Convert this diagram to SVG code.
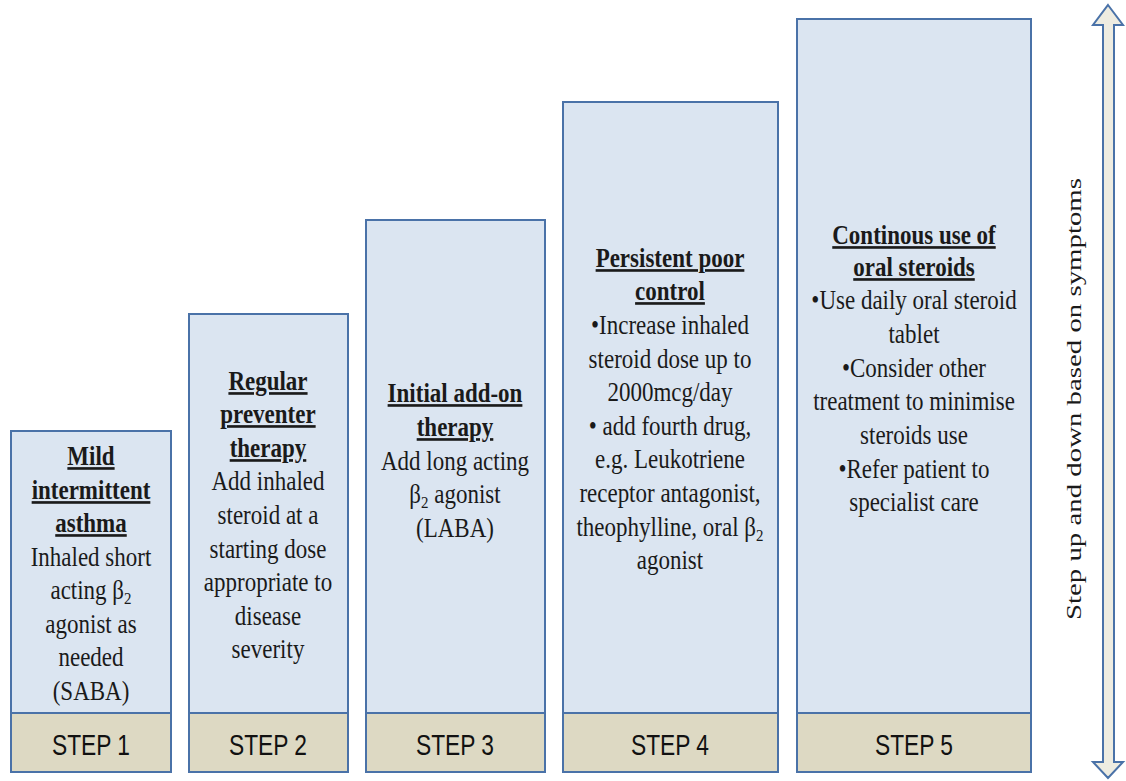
<svg xmlns="http://www.w3.org/2000/svg" width="1126" height="781" viewBox="0 0 1126 781">
<style>
.box{fill:#dbe5f1;stroke:#4a72a8;stroke-width:2}
.step{fill:#ddd9c3;stroke:#4a72a8;stroke-width:2}
.t{font-family:"Liberation Serif","Times New Roman",serif;font-size:23px;fill:#1a1a1a;text-anchor:middle}
.h{font-weight:bold;text-decoration:underline}
.s{font-family:"Liberation Sans",Arial,sans-serif;font-size:30px;fill:#111;text-anchor:middle}
.sub{font-size:15px}
</style>
<rect width="1126" height="781" fill="#ffffff"/>
<g id="step1">
<rect class="box" x="11" y="431" width="160" height="341"/>
<rect class="step" x="11" y="713" width="160" height="59"/>
<text class="t h" transform="matrix(1 0 0 1.15 0 465)" x="91" y="0">Mild</text>
<text class="t h" transform="matrix(1 0 0 1.15 0 499)" x="91" y="0">intermittent</text>
<text class="t h" transform="matrix(1 0 0 1.15 0 532)" x="91" y="0">asthma</text>
<text class="t" transform="matrix(1 0 0 1.15 0 566)" x="91" y="0">Inhaled short</text>
<text class="t" transform="matrix(1 0 0 1.15 0 599)" x="91" y="0">acting β<tspan class="sub" dy="4">2</tspan></text>
<text class="t" transform="matrix(1 0 0 1.15 0 633)" x="91" y="0">agonist as</text>
<text class="t" transform="matrix(1 0 0 1.15 0 666)" x="91" y="0">needed</text>
<text class="t" transform="matrix(1 0 0 1.15 0 700)" x="91" y="0">(SABA)</text>
<text class="s" x="91" y="755" textLength="78" lengthAdjust="spacingAndGlyphs">STEP 1</text>
</g>
<g id="step2">
<rect class="box" x="189" y="314" width="159" height="458"/>
<rect class="step" x="189" y="713" width="159" height="59"/>
<text class="t h" transform="matrix(1 0 0 1.15 0 390)" x="268" y="0">Regular</text>
<text class="t h" transform="matrix(1 0 0 1.15 0 423)" x="268" y="0">preventer</text>
<text class="t h" transform="matrix(1 0 0 1.15 0 457)" x="268" y="0">therapy</text>
<text class="t" transform="matrix(1 0 0 1.15 0 490)" x="268" y="0">Add inhaled</text>
<text class="t" transform="matrix(1 0 0 1.15 0 524)" x="268" y="0">steroid at a</text>
<text class="t" transform="matrix(1 0 0 1.15 0 558)" x="268" y="0">starting dose</text>
<text class="t" transform="matrix(1 0 0 1.15 0 591)" x="268" y="0">appropriate to</text>
<text class="t" transform="matrix(1 0 0 1.15 0 625)" x="268" y="0">disease</text>
<text class="t" transform="matrix(1 0 0 1.15 0 658)" x="268" y="0">severity</text>
<text class="s" x="268" y="755" textLength="78" lengthAdjust="spacingAndGlyphs">STEP 2</text>
</g>
<g id="step3">
<rect class="box" x="366" y="220" width="179" height="552"/>
<rect class="step" x="366" y="713" width="179" height="59"/>
<text class="t h" transform="matrix(1 0 0 1.15 0 402)" x="455" y="0">Initial add-on</text>
<text class="t h" transform="matrix(1 0 0 1.15 0 436)" x="455" y="0">therapy</text>
<text class="t" transform="matrix(1 0 0 1.15 0 470)" x="455" y="0">Add long acting</text>
<text class="t" transform="matrix(1 0 0 1.15 0 503)" x="455" y="0">β<tspan class="sub" dy="4">2</tspan><tspan dy="-4"> agonist</tspan></text>
<text class="t" transform="matrix(1 0 0 1.15 0 537)" x="455" y="0">(LABA)</text>
<text class="s" x="455" y="755" textLength="78" lengthAdjust="spacingAndGlyphs">STEP 3</text>
</g>
<g id="step4">
<rect class="box" x="563" y="102" width="215" height="670"/>
<rect class="step" x="563" y="713" width="215" height="59"/>
<text class="t h" transform="matrix(1 0 0 1.15 0 267)" x="670" y="0">Persistent poor</text>
<text class="t h" transform="matrix(1 0 0 1.15 0 300)" x="670" y="0">control</text>
<text class="t" transform="matrix(1 0 0 1.15 0 334)" x="670" y="0">•Increase inhaled</text>
<text class="t" transform="matrix(1 0 0 1.15 0 368)" x="670" y="0">steroid dose up to</text>
<text class="t" transform="matrix(1 0 0 1.15 0 401)" x="670" y="0">2000mcg/day</text>
<text class="t" transform="matrix(1 0 0 1.15 0 435)" x="670" y="0">• add fourth drug,</text>
<text class="t" transform="matrix(1 0 0 1.15 0 468)" x="670" y="0">e.g. Leukotriene</text>
<text class="t" transform="matrix(1 0 0 1.15 0 502)" x="670" y="0">receptor antagonist,</text>
<text class="t" transform="matrix(1 0 0 1.15 0 536)" x="670" y="0">theophylline, oral β<tspan class="sub" dy="4">2</tspan></text>
<text class="t" transform="matrix(1 0 0 1.15 0 569)" x="670" y="0">agonist</text>
<text class="s" x="670" y="755" textLength="78" lengthAdjust="spacingAndGlyphs">STEP 4</text>
</g>
<g id="step5">
<rect class="box" x="797" y="19" width="234" height="753"/>
<rect class="step" x="797" y="713" width="234" height="59"/>
<text class="t h" transform="matrix(1 0 0 1.15 0 244)" x="914" y="0">Continous use of</text>
<text class="t h" transform="matrix(1 0 0 1.15 0 276)" x="914" y="0">oral steroids</text>
<text class="t" transform="matrix(1 0 0 1.15 0 309)" x="914" y="0">•Use daily oral steroid</text>
<text class="t" transform="matrix(1 0 0 1.15 0 343)" x="914" y="0">tablet</text>
<text class="t" transform="matrix(1 0 0 1.15 0 377)" x="914" y="0">•Consider other</text>
<text class="t" transform="matrix(1 0 0 1.15 0 410)" x="914" y="0">treatment to minimise</text>
<text class="t" transform="matrix(1 0 0 1.15 0 444)" x="914" y="0">steroids use</text>
<text class="t" transform="matrix(1 0 0 1.15 0 478)" x="914" y="0">•Refer patient to</text>
<text class="t" transform="matrix(1 0 0 1.15 0 511)" x="914" y="0">specialist care</text>
<text class="s" x="914" y="755" textLength="78" lengthAdjust="spacingAndGlyphs">STEP 5</text>
</g>
<g id="connectors">
<polygon points="1108,5 1123,25 1114,25 1114,762 1123,762 1108,778 1093,762 1103,762 1103,25 1093,25" fill="#eeece1" stroke="#4a72a8" stroke-width="2" stroke-linejoin="miter"/>
</g>
<g id="side-label">
<text class="t" transform="translate(1081,399) rotate(-90)" x="0" y="0" style="font-size:20px" textLength="442" lengthAdjust="spacingAndGlyphs">Step up and down based on symptoms</text>
</g>
</svg>
